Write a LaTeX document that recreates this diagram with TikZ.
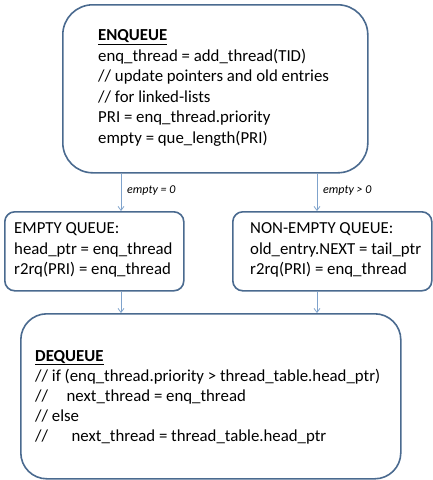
\documentclass[tikz,border=0pt]{standalone}
\usepackage{fontspec}
\setmainfont{Carlito}
\usetikzlibrary{arrows.meta}
\definecolor{boxline}{HTML}{4A6A8F}
\definecolor{arrline}{HTML}{7FA3CC}
\tikzset{
  procbox/.style={draw=boxline, line width=1.6pt, fill=white, rounded corners=#1, inner sep=0pt},
  txt/.style={anchor=base west, align=left, inner sep=0pt, font=\fontsize{16.8}{20.6}\selectfont},
  txtb/.style={txt, font=\fontsize{16.8}{20}\selectfont},
  lbl/.style={anchor=base west, inner sep=0pt, font=\fontsize{12}{14}\selectfont\itshape},
  arr/.style={draw=arrline, line width=0.8pt, -{Straight Barb[length=4pt,width=6pt]}}
}
\begin{document}
\begin{tikzpicture}[x=1pt,y=-1pt]
\useasboundingbox (0,0) rectangle (433,480);
\node[procbox=30pt, minimum width=305pt, minimum height=168pt, anchor=north west] (enq) at (62,4) {};
\node[procbox=10pt, minimum width=179pt, minimum height=79pt, anchor=north west] (emp) at (4,211) {};
\node[procbox=10pt, minimum width=199pt, minimum height=79pt, anchor=north west] (nemp) at (232,211) {};
\node[procbox=26pt, minimum width=380pt, minimum height=165pt, anchor=north west] (deq) at (20,313) {};

% anchor = baseline of the last line
\node[txt] (enqt) at (98,143.5) {\underline{\textbf{ENQUEUE}}\\
enq\_thread = add\_thread(TID)\\
// update pointers and old entries\\
// for linked-lists\\
PRI = enq\_thread.priority\\
empty = que\_length(PRI)};

\node[txt] (empt) at (14,274.7) {EMPTY QUEUE:\\
head\_ptr = enq\_thread\\
r2rq(PRI) = enq\_thread};

\node[txt] (nempt) at (250,274.7) {NON-EMPTY QUEUE:\\
old\_entry.NEXT = tail\_ptr\\
r2rq(PRI) = enq\_thread};

\node[txtb] (deqt) at (35,441) {\underline{\textbf{DEQUEUE}}\\
// if (enq\_thread.priority > thread\_table.head\_ptr)\\
//\hspace{1.1em}next\_thread = enq\_thread\\
// else\\
//\hspace{1.4em}next\_thread = thread\_table.head\_ptr};

\coordinate (xl) at (121,0);
\coordinate (xr) at (317,0);
\draw[arr] (enq.south -| xl) -- (emp.north -| xl);
\draw[arr] (enq.south -| xr) -- (nemp.north -| xr);
\draw[arr] (emp.south -| xl) -- (deq.north -| xl);
\draw[arr] (nemp.south -| xr) -- (deq.north -| xr);
\node[lbl] (l1) at (127,193) {empty = 0};
\node[lbl] (l2) at (323,193) {empty > 0};
\end{tikzpicture}
\end{document}
